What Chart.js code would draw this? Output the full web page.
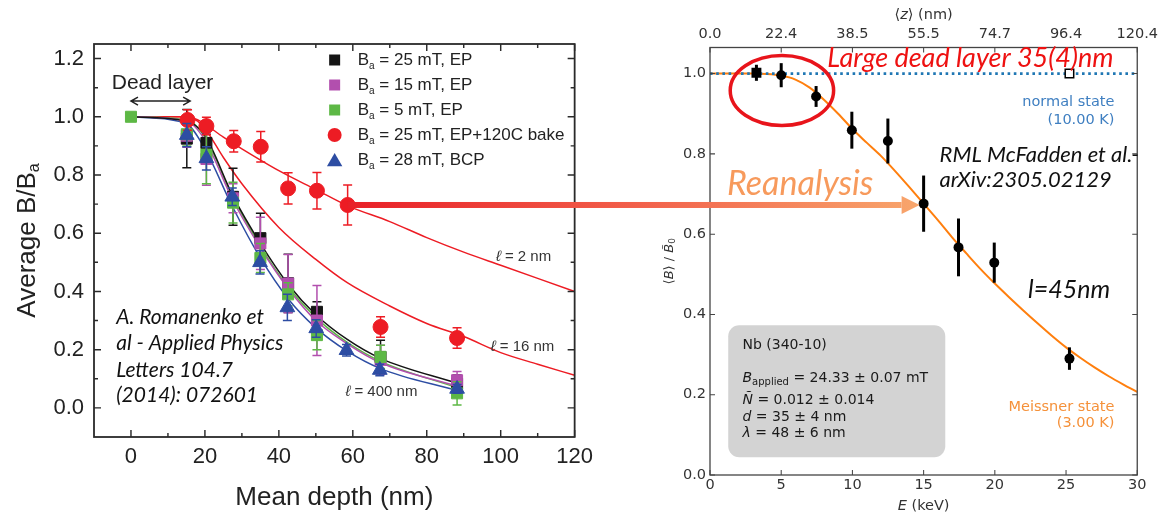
<!DOCTYPE html>
<html><head><meta charset="utf-8">
<script src="https://cdn.jsdelivr.net/npm/chart.js@4.4.1/dist/chart.umd.min.js"></script>
<style>
html,body{margin:0;padding:0;background:#fff;}
#wrap{position:relative;width:1163px;height:514px;overflow:hidden;background:#fff;}
#left{position:absolute;left:0;top:0;width:600px;height:514px;}
#right{position:absolute;left:600px;top:0;width:563px;height:514px;}
#overlay{position:absolute;left:0;top:0;width:1163px;height:514px;pointer-events:none;}
</style></head><body>
<div id="wrap">
<canvas id="left" width="600" height="514"></canvas>
<canvas id="right" width="563" height="514"></canvas>
<canvas id="overlay" width="1163" height="514"></canvas>
</div>
<script>
// ---------------- Left chart data (Romanenko et al. 2014) ----------------
const leftXTicks = [0, 20, 40, 60, 80, 100, 120];
const leftYTicks = [0, 0.2, 0.4, 0.6, 0.8, 1.0, 1.2];
const seriesLabels = ['25 mT, EP', '15 mT, EP', '5 mT, EP', '25 mT, EP+120C bake', '28 mT, BCP'];

const blackX = [15.1, 20.4, 27.6, 35.0, 42.5, 50.3, 67.5, 88.2];
const blackY = [0.925, 0.91, 0.725, 0.583, 0.428, 0.33, 0.175, 0.083];
const blackErr = [0.10, 0.03, 0.098, 0.086, 0.10, 0.035, 0.057, 0.03];

const magentaX = [15.1, 20.4, 27.6, 35.0, 42.5, 50.3, 67.5, 88.2];
const magentaY = [0.935, 0.855, 0.72, 0.565, 0.427, 0.30, 0.165, 0.095];
const magentaErr = [0.04, 0.09, 0.05, 0.09, 0.10, 0.12, 0.05, 0.03];

const greenX = [0, 15.1, 20.4, 27.6, 35.0, 42.5, 50.3, 67.5, 88.2];
const greenY = [1.0, 0.94, 0.87, 0.705, 0.515, 0.39, 0.25, 0.175, 0.05];
const greenErr = [0, 0.04, 0.10, 0.07, 0.05, 0.04, 0.05, 0.04, 0.04];

const redX = [15.3, 20.4, 27.8, 35.1, 42.5, 50.3, 58.6, 67.5, 88.2];
const redY = [0.989, 0.968, 0.916, 0.897, 0.754, 0.746, 0.697, 0.278, 0.24];
const redErr = [0.035, 0.03, 0.037, 0.052, 0.054, 0.063, 0.069, 0.035, 0.035];

const blueX = [15.1, 20.4, 27.4, 34.9, 42.3, 50.1, 58.3, 67.3, 88.2];
const blueY = [0.937, 0.857, 0.725, 0.50, 0.345, 0.273, 0.198, 0.13, 0.065];
const blueErr = [0.04, 0.04, 0.03, 0.04, 0.045, 0.03, 0.02, 0.02, 0.015];

const fitX = [0, 15, 20, 27.5, 35, 42.5, 50, 58.5, 67.5, 88];
const fitBlack = [1.0, 0.985, 0.935, 0.73, 0.565, 0.425, 0.32, 0.235, 0.17, 0.085];
const fitMagenta = [1.0, 0.985, 0.92, 0.715, 0.55, 0.41, 0.30, 0.22, 0.155, 0.075];
const fitGreen = [1.0, 0.99, 0.93, 0.725, 0.555, 0.415, 0.31, 0.225, 0.16, 0.07];
const fitBlue = [1.0, 0.975, 0.89, 0.69, 0.515, 0.375, 0.275, 0.195, 0.135, 0.06];

const fitRedX = [0, 15, 18, 20, 25, 30, 40, 50, 58.5, 70, 80, 90, 100, 110, 120];
const fit2nm = [1.0, 1.0, 0.99, 0.975, 0.93, 0.89, 0.815, 0.75, 0.695, 0.64, 0.585, 0.535, 0.49, 0.445, 0.40];
const fit16nm = [1.0, 1.0, 0.985, 0.96, 0.86, 0.77, 0.62, 0.51, 0.43, 0.35, 0.29, 0.245, 0.19, 0.15, 0.112];

// ---------------- Right chart data (McFadden et al. reanalysis) ----------------
const eTicks = [0, 5, 10, 15, 20, 25, 30];
const zTickLabels = ['0.0', '22.4', '38.5', '55.5', '74.7', '96.4', '120.4'];
const bTicks = [0, 0.2, 0.4, 0.6, 0.8, 1.0];

const meissE = [5.0, 7.45, 9.96, 12.49, 15.0, 17.45, 19.96, 25.24];
const meissB = [0.996, 0.943, 0.859, 0.832, 0.676, 0.567, 0.529, 0.29];
const meissErr = [0.03, 0.026, 0.046, 0.056, 0.07, 0.072, 0.05, 0.028];
const firstE = [3.26];
const firstB = [1.002];
const firstErr = [0.02];
const normalE = [25.24];
const normalB = [1.0];
const normalFitE = [0, 30];
const normalFitB = [1.0, 1.0];
const meissFitE = [0, 2, 3, 4, 5, 6, 7, 8, 9, 10, 11, 12, 13, 14, 15, 16, 17, 18, 19, 20, 21, 22, 23, 24, 25, 26, 27, 28, 29, 30];
const meissFitB = [1, 1, 1, 0.999, 0.995, 0.985, 0.965, 0.935, 0.90, 0.862, 0.828, 0.795, 0.757, 0.717, 0.676, 0.635, 0.592, 0.552, 0.513, 0.477, 0.443, 0.41, 0.378, 0.347, 0.318, 0.292, 0.268, 0.246, 0.226, 0.207];

// ---------------- helpers ----------------
const L_FONT = "'Liberation Sans', Arial, sans-serif";
const R_FONT = "'DejaVu Sans', sans-serif";
const A_FONT = "Lato, 'Open Sans', sans-serif";
const COL = {black:'#151515', magenta:'#b24fae', green:'#5db845', red:'#ed1c24', blue:'#2d4da3'};

function pts(xs, ys) { return xs.map((x, i) => ({x: x, y: ys[i]})); }
function runsWidth(ctx, runs) { let w = 0; for (const r of runs) { ctx.font = r.f; w += ctx.measureText(r.t).width; } return w; }
function drawRuns(ctx, x, y, runs, align, color) {
  const w = runsWidth(ctx, runs);
  let cx = align === 'center' ? x - w / 2 : (align === 'right' ? x - w : x);
  ctx.textAlign = 'left'; ctx.textBaseline = 'middle';
  for (const r of runs) {
    ctx.font = r.f; ctx.fillStyle = r.c || color;
    ctx.fillText(r.t, cx, y + (r.dy || 0));
    cx += ctx.measureText(r.t).width;
  }
}
function markerPath(ctx, style, x, y, s) {
  ctx.beginPath();
  if (style === 'rect') ctx.rect(x - s / 2, y - s / 2, s, s);
  else if (style === 'circle') ctx.arc(x, y, s / 2, 0, Math.PI * 2);
  else { ctx.moveTo(x, y - s * 0.5); ctx.lineTo(x + s * 0.55, y + s * 0.45); ctx.lineTo(x - s * 0.55, y + s * 0.45); ctx.closePath(); }
}

const errorBarPlugin = {
  id: 'errbars',
  beforeDatasetDraw(chart, args) {
    const ds = chart.data.datasets[args.index];
    if (!ds.errorBars) return;
    const xs = chart.scales.x, ys = chart.scales.y, ctx = chart.ctx;
    ctx.save();
    ctx.strokeStyle = ds.errorColor || ds.borderColor;
    ctx.lineWidth = ds.errorWidth || 1.5;
    ds.data.forEach((p, i) => {
      const e = ds.errorBars[i]; if (!e) return;
      const px = xs.getPixelForValue(p.x), y1 = ys.getPixelForValue(p.y + e), y2 = ys.getPixelForValue(p.y - e);
      ctx.beginPath(); ctx.moveTo(px, y1); ctx.lineTo(px, y2);
      if (ds.capWidth) { const c = ds.capWidth; ctx.moveTo(px - c, y1); ctx.lineTo(px + c, y1); ctx.moveTo(px - c, y2); ctx.lineTo(px + c, y2); }
      ctx.stroke();
    });
    ctx.restore();
  }
};

function frameAndTicks(chart, xMajor, xMinor, yMajor, yMinor, lenMaj, lenMin, color, lw) {
  const ctx = chart.ctx, a = chart.chartArea, xs = chart.scales.x, ys = chart.scales.y;
  ctx.save(); ctx.strokeStyle = color; ctx.lineWidth = lw;
  ctx.strokeRect(a.left, a.top, a.right - a.left, a.bottom - a.top);
  ctx.lineWidth = Math.max(1, lw * 0.8);
  ctx.beginPath();
  const xt = (arr, len) => arr.forEach(v => { const p = xs.getPixelForValue(v); ctx.moveTo(p, a.bottom); ctx.lineTo(p, a.bottom - len); ctx.moveTo(p, a.top); ctx.lineTo(p, a.top + len); });
  const yt = (arr, len) => arr.forEach(v => { const p = ys.getPixelForValue(v); ctx.moveTo(a.left, p); ctx.lineTo(a.left + len, p); ctx.moveTo(a.right, p); ctx.lineTo(a.right - len, p); });
  xt(xMajor, lenMaj); xt(xMinor, lenMin); yt(yMajor, lenMaj); yt(yMinor, lenMin);
  ctx.stroke(); ctx.restore();
}

// ---------------- Left chart ----------------
const leftMarkers = [
  {style:'rect', color:COL.black}, {style:'rect', color:COL.magenta}, {style:'rect', color:COL.green},
  {style:'circle', color:COL.red}, {style:'triangle', color:COL.blue}
];
const leftPlugin = {
  id: 'leftDecor',
  afterDraw(chart) {
    const ctx = chart.ctx, a = chart.chartArea, xs = chart.scales.x, ys = chart.scales.y;
    const X = v => xs.getPixelForValue(v), Y = v => ys.getPixelForValue(v);
    frameAndTicks(chart, leftXTicks, [10, 30, 50, 70, 90, 110], leftYTicks, [0.1, 0.3, 0.5, 0.7, 0.9, 1.1], 7, 4, '#2a2a2a', 1.8);
    ctx.save();
    // legend
    seriesLabels.forEach((lab, i) => {
      const cy = a.top + 16 + i * 25, mx = a.right - 240;
      const m = leftMarkers[i];
      ctx.fillStyle = m.color;
      markerPath(ctx, m.style, mx, cy, m.style === 'rect' ? 11 : 14);
      ctx.fill();
      drawRuns(ctx, a.right - 217, cy, [
        {t:'B', f:'17px ' + L_FONT}, {t:'a', f:'10px ' + L_FONT, dy:6}, {t:' = ' + lab, f:'17px ' + L_FONT}
      ], 'left', '#222');
    });
    // dead layer
    drawRuns(ctx, X(-5.2), Y(1.116), [{t:'Dead layer', f:'21px ' + L_FONT}], 'left', '#222');
    const ya = Y(1.054), x0 = X(0), x1 = X(16);
    ctx.strokeStyle = '#222'; ctx.lineWidth = 1.5;
    ctx.beginPath(); ctx.moveTo(x0, ya); ctx.lineTo(x1, ya);
    ctx.moveTo(x0 + 7, ya - 4); ctx.lineTo(x0, ya); ctx.lineTo(x0 + 7, ya + 4);
    ctx.moveTo(x1 - 7, ya - 4); ctx.lineTo(x1, ya); ctx.lineTo(x1 - 7, ya + 4);
    ctx.stroke();
    // curve labels
    const lf = '15px ' + L_FONT;
    drawRuns(ctx, X(98.7), Y(0.519), [{t:'\u2113', f:'italic ' + lf}, {t:' = 2 nm', f:lf}], 'left', '#333');
    drawRuns(ctx, X(97.3), Y(0.2096), [{t:'\u2113', f:'italic ' + lf}, {t:' = 16 nm', f:lf}], 'left', '#333');
    drawRuns(ctx, X(58.0), Y(0.055), [{t:'\u2113', f:'italic ' + lf}, {t:' = 400 nm', f:lf}], 'left', '#333');
    // citation
    const cf = 'italic 21px ' + A_FONT;
    ['A. Romanenko et', 'al - Applied Physics', 'Letters 104.7', '(2014): 072601'].forEach((t, i) => {
      drawRuns(ctx, X(-4.0), Y([0.3127, 0.2213, 0.1296, 0.0436][i]), [{t:t, f:cf}], 'left', '#111');
    });
    // y title
    ctx.translate(28, (a.top + a.bottom) / 2);
    ctx.rotate(-Math.PI / 2);
    drawRuns(ctx, 0, 0, [{t:'Average B/B', f:'26px ' + L_FONT}, {t:'a', f:'16px ' + L_FONT, dy:7}], 'center', '#222');
    ctx.restore();
  }
};

const fitDs = (xs, ys, color) => ({data: pts(xs, ys), showLine: true, pointRadius: 0, borderColor: color, borderWidth: 1.5, cubicInterpolationMode: 'monotone', fill: false, order: 20});
const markDs = (xs, ys, errs, color, style, r, order) => ({data: pts(xs, ys), pointStyle: style, pointRadius: r, pointHoverRadius: r, backgroundColor: color, borderColor: color, borderWidth: 1, errorBars: errs, capWidth: 4.5, errorWidth: 1.5, order: order});

const leftChart = new Chart(document.getElementById('left'), {
  type: 'scatter',
  data: {datasets: [
    fitDs(fitX, fitBlack, COL.black), fitDs(fitX, fitMagenta, COL.magenta), fitDs(fitX, fitGreen, COL.green), fitDs(fitX, fitBlue, COL.blue),
    fitDs(fitRedX, fit2nm, COL.red), fitDs(fitRedX, fit16nm, COL.red),
    markDs(blackX, blackY, blackErr, COL.black, 'rect', 7.8, 4),
    markDs(magentaX, magentaY, magentaErr, COL.magenta, 'rect', 7.8, 3),
    markDs(greenX, greenY, greenErr, COL.green, 'rect', 7.8, 2),
    markDs(redX, redY, redErr, COL.red, 'circle', 7.5, 1),
    markDs(blueX, blueY, blueErr, COL.blue, 'triangle', 8.5, 0)
  ]},
  options: {
    responsive: false, animation: false, events: [],
    layout: {padding: {left: 0, right: 20, top: 44, bottom: 0}},
    plugins: {legend: {display: false}, tooltip: {enabled: false}},
    scales: {
      x: {type: 'linear', position: 'bottom', min: -10, max: 120,
        afterFit: s => { s.height = 77; },
        afterBuildTicks: s => { s.ticks = leftXTicks.map(v => ({value: v})); },
        grid: {display: false, drawTicks: false}, border: {display: false},
        ticks: {font: {family: L_FONT, size: 22}, color: '#222', padding: 7, maxRotation: 0},
        title: {display: true, text: 'Mean depth (nm)', font: {family: L_FONT, size: 26}, color: '#222', padding: {top: 0, bottom: 1}}
      },
      y: {type: 'linear', position: 'left', min: -0.1, max: 1.25,
        afterFit: s => { s.width = 94; },
        afterBuildTicks: s => { s.ticks = leftYTicks.map(v => ({value: v})); },
        grid: {display: false, drawTicks: false}, border: {display: false},
        ticks: {font: {family: L_FONT, size: 22}, color: '#222', padding: 10, callback: v => v.toFixed(1)}
      }
    }
  },
  plugins: [errorBarPlugin, leftPlugin]
});

// ---------------- Right chart ----------------
const rightBack = {
  id: 'rightBack',
  beforeDatasetsDraw(chart) {
    const ctx = chart.ctx, xs = chart.scales.x, ys = chart.scales.y;
    const X = v => xs.getPixelForValue(v), Y = v => ys.getPixelForValue(v);
    const x0 = X(1.28), x1 = X(16.52), y0 = Y(0.373), y1 = Y(0.044);
    ctx.save();
    ctx.fillStyle = '#d3d3d3';
    ctx.beginPath(); ctx.roundRect(x0, y0, x1 - x0, y1 - y0, 11); ctx.fill();
    const f = '14px ' + R_FONT, fi = 'italic 14px ' + R_FONT, fs = '10px ' + R_FONT;
    const lx = X(2.28);
    drawRuns(ctx, lx, Y(0.322), [{t:'Nb (340-10)', f:f}], 'left', '#1a1a1a');
    drawRuns(ctx, lx, Y(0.241), [{t:'B', f:fi}, {t:'applied', f:fs, dy:4}, {t:' = 24.33 \u00b1 0.07 mT', f:f}], 'left', '#1a1a1a');
    drawRuns(ctx, lx, Y(0.185), [{t:'\u00d1', f:fi}, {t:' = 0.012 \u00b1 0.014', f:f}], 'left', '#1a1a1a');
    drawRuns(ctx, lx, Y(0.1436), [{t:'d', f:fi}, {t:' = 35 \u00b1 4 nm', f:f}], 'left', '#1a1a1a');
    drawRuns(ctx, lx, Y(0.1038), [{t:'\u03bb', f:fi}, {t:' = 48 \u00b1 6 nm', f:f}], 'left', '#1a1a1a');
    ctx.restore();
  }
};
const rightPlugin = {
  id: 'rightDecor',
  afterDraw(chart) {
    const ctx = chart.ctx, a = chart.chartArea, xs = chart.scales.x, ys = chart.scales.y;
    const X = v => xs.getPixelForValue(v), Y = v => ys.getPixelForValue(v);
    frameAndTicks(chart, eTicks, [], bTicks, [], 5, 0, '#444', 1.3);
    ctx.save();
    const f = '14.5px ' + R_FONT, fi = 'italic 14.5px ' + R_FONT;
    const cx = (a.left + a.right) / 2;
    drawRuns(ctx, cx, 15.7, [{t:'\u27e8', f:f}, {t:'z', f:fi}, {t:'\u27e9 (nm)', f:f}], 'center', '#333');
    drawRuns(ctx, cx, 506.5, [{t:'E', f:fi}, {t:' (keV)', f:f}], 'center', '#333');
    ctx.save();
    ctx.translate(70, (a.top + a.bottom) / 2);
    ctx.rotate(-Math.PI / 2);
    drawRuns(ctx, 0, 0, [{t:'\u27e8', f:'13px ' + R_FONT}, {t:'B', f:'italic 13px ' + R_FONT}, {t:'\u27e9 / ', f:'13px ' + R_FONT}, {t:'B\u0303', f:'italic 13px ' + R_FONT}, {t:'0', f:'9px ' + R_FONT, dy:3}], 'center', '#333');
    ctx.restore();
    // state labels
    drawRuns(ctx, X(28.4), Y(0.928), [{t:'normal state', f:f}], 'right', '#3f7fc1');
    drawRuns(ctx, X(28.4), Y(0.885), [{t:'(10.00 K)', f:f}], 'right', '#3f7fc1');
    drawRuns(ctx, X(28.4), Y(0.170), [{t:'Meissner state', f:f}], 'right', '#f5913a');
    drawRuns(ctx, X(28.4), Y(0.130), [{t:'(3.00 K)', f:f}], 'right', '#f5913a');
    // annotations
    drawRuns(ctx, X(8.23), Y(1.037), [{t:'Large dead layer 35(4)nm', f:'italic 27px ' + A_FONT}], 'left', '#ee1111');
    drawRuns(ctx, X(1.19), Y(0.7244), [{t:'Reanalysis', f:'italic 34px ' + A_FONT}], 'left', '#f79a5c');
    drawRuns(ctx, X(16.12), Y(0.797), [{t:'RML McFadden et al.-', f:'italic 22px ' + A_FONT}], 'left', '#111');
    drawRuns(ctx, X(16.12), Y(0.734), [{t:'arXiv:2305.02129', f:'italic 22px ' + A_FONT}], 'left', '#111');
    drawRuns(ctx, X(22.33), Y(0.4605), [{t:'l=45nm', f:'italic 25px ' + A_FONT}], 'left', '#111');
    // red ellipse
    ctx.strokeStyle = '#e8141b'; ctx.lineWidth = 3.5;
    ctx.beginPath(); ctx.ellipse(X(5.05), Y(0.958), 51.7, 35, 0, 0, Math.PI * 2); ctx.stroke();
    ctx.restore();
  }
};

const rightChart = new Chart(document.getElementById('right'), {
  type: 'scatter',
  data: {datasets: [
    {data: pts(meissE, meissB), pointStyle: 'circle', pointRadius: 5, backgroundColor: '#000', borderColor: '#000', borderWidth: 0, errorBars: meissErr, errorWidth: 3, errorColor: '#000', order: 0},
    {data: pts(firstE, firstB), pointStyle: 'rect', pointRadius: 7, backgroundColor: '#000', borderColor: '#000', borderWidth: 0, errorBars: firstErr, errorWidth: 3, errorColor: '#000', order: 0},
    {data: pts(normalE, normalB), pointStyle: 'rect', pointRadius: 6, backgroundColor: '#fff', borderColor: '#000', borderWidth: 1.5, order: 1},
    {data: pts(normalFitE, normalFitB), showLine: true, pointRadius: 0, borderColor: '#1f77b4', borderWidth: 2.6, borderDash: [2.6, 3.6], borderCapStyle: 'butt', order: 2},
    {data: pts(meissFitE, meissFitB), showLine: true, pointRadius: 0, borderColor: '#ff7f0e', borderWidth: 2, cubicInterpolationMode: 'monotone', order: 3}
  ]},
  options: {
    responsive: false, animation: false, events: [],
    layout: {padding: {left: 0, right: 23, top: 0, bottom: 0}},
    plugins: {legend: {display: false}, tooltip: {enabled: false}},
    scales: {
      x: {type: 'linear', position: 'bottom', min: 0, max: 30,
        afterFit: s => { s.height = 39; },
        afterBuildTicks: s => { s.ticks = eTicks.map(v => ({value: v})); },
        grid: {display: false, drawTicks: false}, border: {display: false},
        ticks: {font: {family: R_FONT, size: 14.5}, color: '#333', padding: 2, maxRotation: 0}
      },
      x2: {type: 'linear', position: 'top', axis: 'x', min: 0, max: 30,
        afterFit: s => { s.height = 47.5; },
        afterBuildTicks: s => { s.ticks = eTicks.map(v => ({value: v})); },
        grid: {display: false, drawTicks: false}, border: {display: false},
        ticks: {font: {family: R_FONT, size: 14.5}, color: '#333', padding: 5, maxRotation: 0, callback: (v, i) => zTickLabels[i]}
      },
      y: {type: 'linear', position: 'left', min: 0, max: 1.065,
        afterFit: s => { s.width = 110; },
        afterBuildTicks: s => { s.ticks = bTicks.map(v => ({value: v})); },
        grid: {display: false, drawTicks: false}, border: {display: false},
        ticks: {font: {family: R_FONT, size: 14.5}, color: '#333', padding: 4, callback: v => v.toFixed(1)}
      }
    }
  },
  plugins: [errorBarPlugin, rightBack, rightPlugin]
});

// ---------------- Arrow linking the two charts ----------------
(function drawArrow() {
  const ov = document.getElementById('overlay').getContext('2d');
  const lc = document.getElementById('left'), rc = document.getElementById('right');
  const sx = lc.offsetLeft + leftChart.scales.x.getPixelForValue(redX[6]);
  const sy = lc.offsetTop + leftChart.scales.y.getPixelForValue(redY[6]);
  const ex = rc.offsetLeft + rightChart.scales.x.getPixelForValue(meissE[4]) - 4;
  const headL = 18, headH = 18, shaft = 6;
  const g = ov.createLinearGradient(sx, 0, ex, 0);
  g.addColorStop(0, '#e81f27');
  g.addColorStop(0.5, '#f25f4a');
  g.addColorStop(1, '#f8a66c');
  ov.fillStyle = g;
  ov.fillRect(sx, sy - shaft / 2, ex - headL - sx, shaft);
  ov.beginPath();
  ov.moveTo(ex - headL, sy - headH / 2); ov.lineTo(ex, sy); ov.lineTo(ex - headL, sy + headH / 2); ov.closePath();
  ov.fill();
})();
</script>
</body></html>
